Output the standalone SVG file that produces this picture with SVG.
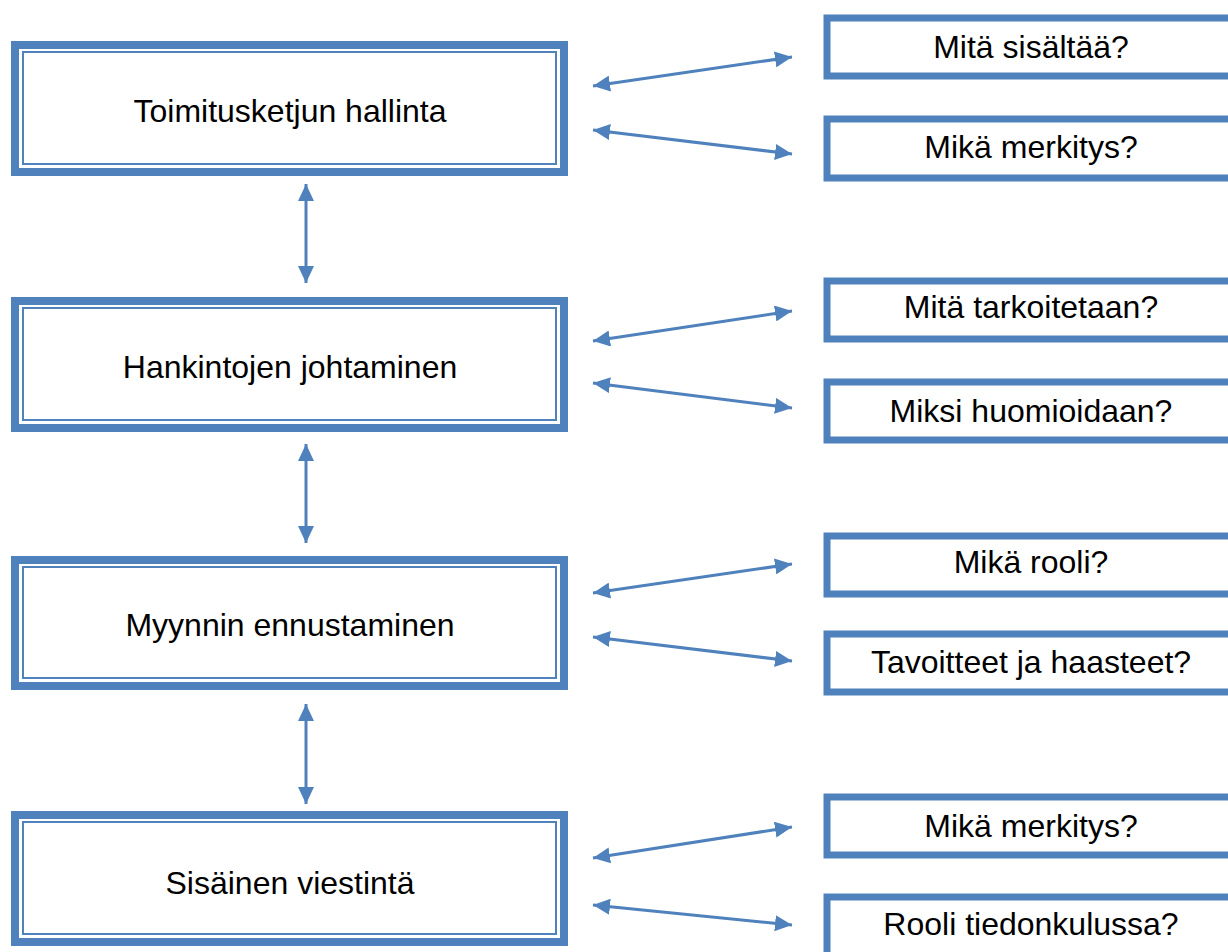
<svg xmlns="http://www.w3.org/2000/svg" width="1228" height="952" viewBox="0 0 1228 952">
<style>
.outer{fill:#fff;stroke:#4F81BD;stroke-width:8}
.inner{fill:none;stroke:#4F81BD;stroke-width:2}
.rb{fill:#fff;stroke:#4F81BD;stroke-width:7}
.t{font-family:"Liberation Sans",Arial,sans-serif;font-size:32px;fill:#000;text-anchor:middle}
.c{stroke:#4F81BD;stroke-width:3;fill:none;marker-start:url(#ah);marker-end:url(#ah)}
</style>
<defs>
<marker id="ah" markerUnits="userSpaceOnUse" markerWidth="17" markerHeight="16" refX="17" refY="8" orient="auto-start-reverse" viewBox="0 0 17 16">
<path d="M0,0 L17,8 L0,16 z" fill="#4F81BD"/>
</marker>
</defs>
<rect width="1228" height="952" fill="#fff"/>
<g id="n1"><rect class="outer" x="15" y="45" width="549" height="127"/><rect class="inner" x="23" y="52" width="533" height="112"/><text class="t" x="290" y="122">Toimitusketjun hallinta</text></g>
<g id="n2"><rect class="outer" x="15" y="301" width="549" height="127"/><rect class="inner" x="23" y="308" width="533" height="112"/><text class="t" x="290" y="378">Hankintojen johtaminen</text></g>
<g id="n3"><rect class="outer" x="15" y="560" width="549" height="126"/><rect class="inner" x="23" y="567" width="533" height="111"/><text class="t" x="290" y="636">Myynnin ennustaminen</text></g>
<g id="n4"><rect class="outer" x="15" y="815" width="549" height="127"/><rect class="inner" x="23" y="822" width="533" height="112"/><text class="t" x="290" y="894">Sisäinen viestintä</text></g>
<g id="r1"><rect class="rb" x="827" y="18" width="410" height="58"/><text class="t" x="1031" y="58">Mitä sisältää?</text></g>
<g id="r2"><rect class="rb" x="827" y="119" width="410" height="59"/><text class="t" x="1031" y="158">Mikä merkitys?</text></g>
<g id="r3"><rect class="rb" x="827" y="281" width="410" height="58"/><text class="t" x="1031" y="318">Mitä tarkoitetaan?</text></g>
<g id="r4"><rect class="rb" x="827" y="382" width="410" height="58"/><text class="t" x="1031" y="422">Miksi huomioidaan?</text></g>
<g id="r5"><rect class="rb" x="827" y="536" width="410" height="58"/><text class="t" x="1031" y="573">Mikä rooli?</text></g>
<g id="r6"><rect class="rb" x="827" y="634" width="410" height="58"/><text class="t" x="1031" y="673">Tavoitteet ja haasteet?</text></g>
<g id="r7"><rect class="rb" x="827" y="797" width="410" height="58"/><text class="t" x="1031" y="837">Mikä merkitys?</text></g>
<g id="r8"><rect class="rb" x="827" y="897" width="410" height="80"/><text class="t" x="1031" y="935">Rooli tiedonkulussa?</text></g>
<g id="connectors">
<line class="c" x1="593" y1="86" x2="792" y2="57"/>
<line class="c" x1="593" y1="130" x2="792" y2="154"/>
<line class="c" x1="593" y1="341" x2="792" y2="311"/>
<line class="c" x1="593" y1="383" x2="792" y2="408"/>
<line class="c" x1="593" y1="593" x2="792" y2="564"/>
<line class="c" x1="593" y1="637" x2="792" y2="661"/>
<line class="c" x1="593" y1="858" x2="792" y2="827"/>
<line class="c" x1="593" y1="905" x2="792" y2="925"/>
<line class="c" x1="306" y1="184" x2="306" y2="283"/>
<line class="c" x1="306" y1="444" x2="306" y2="543"/>
<line class="c" x1="306" y1="704" x2="306" y2="804"/>
</g>
</svg>
